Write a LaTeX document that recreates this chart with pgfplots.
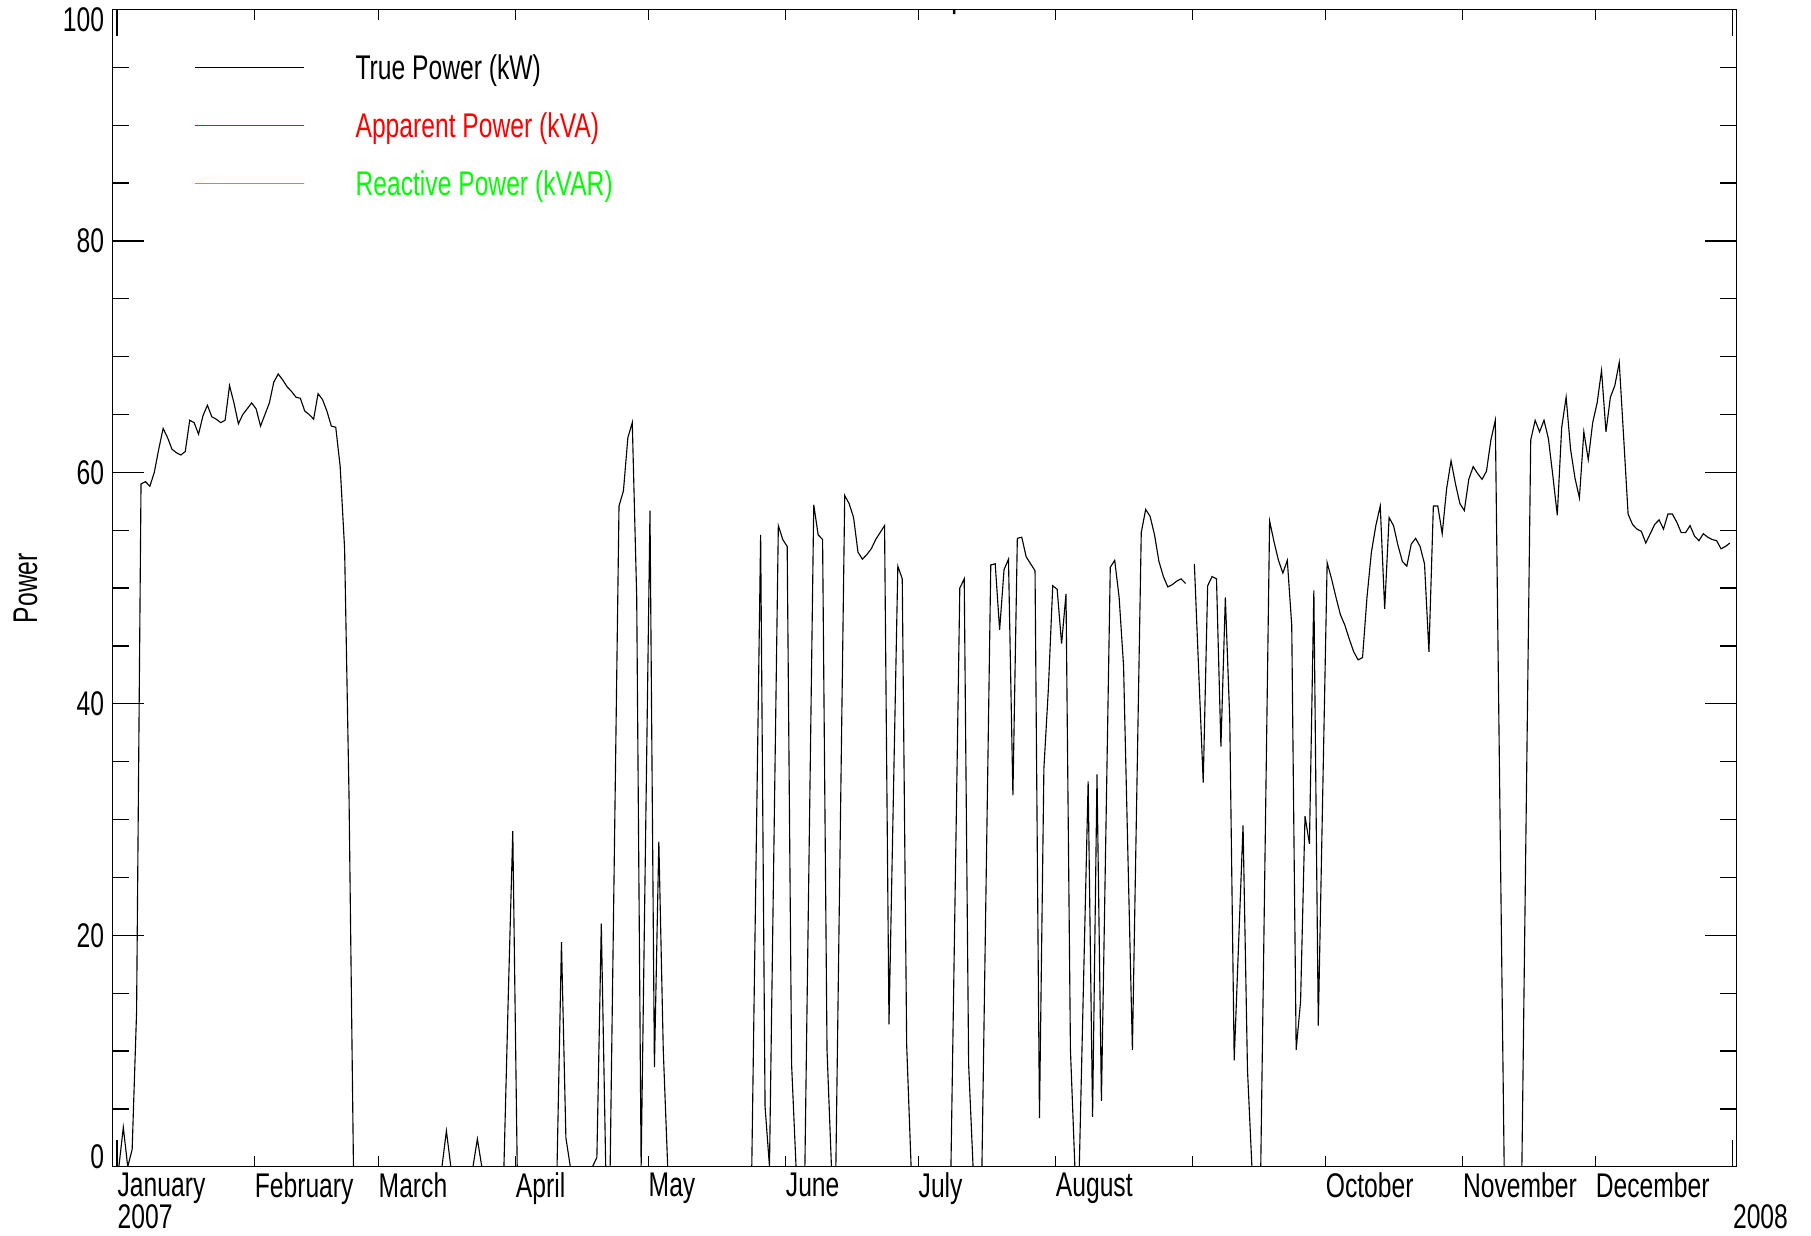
\documentclass[border=0pt]{standalone}
\usepackage{fontspec}
\setmainfont{Liberation Sans}[FakeStretch=0.72]
\usepackage{pgfplots}
\pgfplotsset{compat=1.18}

\newcommand\lbl{\fontsize{13.7pt}{15.3pt}\selectfont}

\pgfplotsset{
  frame/.style={
    width=649.7pt, height=462.9pt, scale only axis,
    xmin=-0.5, xmax=366.5, ymin=0, ymax=100,
    axis line style={line width=0.5pt},
    tick style={line width=0.5pt, black},
    tick align=inside,
    /pgf/number format/assume math mode=true,
    tick label style={font=\lbl},
  }
}

\begin{document}
\begin{tikzpicture}
% y ticks, data, legend
\begin{axis}[frame,
  xtick=\empty,
  ytick={0,20,...,100}, minor y tick num=3,
  yticklabels={\raisebox{4.2pt}[\height][\depth]{0},20,40,60,80,\raisebox{-4.2pt}[\height][\depth]{100}},
  major tick length=12.8pt, minor tick length=6.7pt,
  yticklabel style={anchor=east, inner sep=0pt, xshift=-3.1pt},
  ylabel={Power},
  ylabel style={at={(axis description cs:-0.0534,0.5)}, anchor=center, font=\lbl},
  unbounded coords=jump,
  legend cell align=left,
  legend image code/.code={\draw[#1] (0pt,1.3pt) -- (43.6pt,1.3pt);},
  legend style={at={(axis description cs:0.0503,0.9613)}, anchor=north west,
    draw=none, fill=none, inner sep=0pt, row sep=10.2pt, column sep=20.4pt,
    font=\lbl, nodes={inner sep=0pt, text height=10pt, text depth=3pt}},
]
\addplot[black, line width=0.45pt] coordinates {
(1,0)(2,3.4)(3,0)(4,1.5)(5,13.4)(6,59.0)(7,59.2)(8,58.8)(9,60.0)(10,62.0)
(11,63.8)(12,63.0)(13,62.0)(14,61.7)(15,61.5)(16,61.8)(17,64.5)(18,64.3)(19,63.3)(20,64.9)
(21,65.8)(22,64.8)(23,64.6)(24,64.3)(25,64.5)(26,67.5)(27,66.0)(28,64.2)(29,65.0)(30,65.5)
(31,66.0)(32,65.5)(33,64.0)(34,65.0)(35,66.0)(36,67.8)(37,68.5)(38,68.0)(39,67.4)(40,67.0)
(41,66.5)(42,66.4)(43,65.3)(44,65.0)(45,64.6)(46,66.8)(47,66.3)(48,65.3)(49,64.0)(50,63.9)
(51,60.5)(52,53.4)(53,32.0)(54,0)
(74,0)(75,3.1)(76,0)
(81,0)(82,2.4)(83,0)
(88,0)(89,15.0)(90,29.0)(91,0)
(100,0)(101,19.4)(102,2.5)(103,0)
(108,0)(109,0.8)(110,21.0)(111,0)(112,0)
(114,57.1)(115,58.4)(116,63.0)(117,64.3)(118,49.2)(119,0)
(121,56.7)(122,8.6)(123,28.1)(124,10.1)(125,0)
(144,0)(146,54.6)(147,5.2)(148,0)
(150,55.4)(151,54.2)(152,53.6)(153,8.8)(154,0)
(156,0)(158,57.2)(159,54.6)(160,54.2)(161,10.1)(162,0)(163,0)
(165,58.0)(166,57.3)(167,56.1)(168,53.1)(169,52.5)(170,52.9)(171,53.4)(172,54.2)(173,54.8)(174,55.4)
(175,12.3)(177,51.9)(178,50.8)(179,10.5)(180,0)
(189,0)(191,50.0)(192,50.8)(193,8.8)(194,0)
(196,0)(198,52.0)(199,52.1)(200,46.4)(201,51.6)(202,52.5)(203,32.1)(204,54.3)(205,54.4)(206,52.7)
(207,52.1)(208,51.5)(209,4.2)(210,34.4)(211,41.2)(212,50.2)(213,49.9)(214,45.2)(215,49.5)(216,10.1)
(217,0)(218,0)(220,33.3)(221,4.3)(222,33.9)(223,5.7)
(225,51.8)(226,52.4)(227,49.2)(228,43.3)(230,10.1)
(232,54.8)(233,56.8)(234,56.2)(235,54.6)(236,52.3)(237,51.0)(238,50.1)(239,50.3)(240,50.6)(241,50.8)
(242,50.4)(243,nan)(244,52.1)(246,33.2)(247,50.2)(248,51.0)(249,50.8)(250,36.3)
(251,49.2)(252,38.6)(253,9.2)(255,29.5)(256,8.4)(257,0)(259,0)
(261,55.8)(262,54.0)(263,52.4)(264,51.3)(265,52.4)(266,46.8)(267,10.1)(268,14.3)(269,30.3)(270,27.9)
(271,49.8)(272,12.2)(274,52.2)(275,50.8)(276,49.2)(277,47.7)(278,46.8)(279,45.6)(280,44.5)
(281,43.8)(282,44.0)(283,49.2)(284,53.1)(285,55.4)(286,57.1)(287,48.2)(288,56.1)(289,55.4)(290,53.7)
(291,52.3)(292,51.9)(293,53.8)(294,54.3)(295,53.6)(296,52.1)(297,44.5)(298,57.1)(299,57.1)(300,54.7)
(301,58.6)(302,61.0)(303,59.0)(304,57.3)(305,56.7)(306,59.4)(307,60.5)(308,59.9)(309,59.4)(310,60.1)
(311,62.8)(312,64.5)(314,0)(318,0)
(320,62.8)(321,64.5)(322,63.5)(323,64.5)(324,62.9)(325,59.7)(326,56.3)(327,63.9)(328,66.5)(329,62.0)
(330,59.5)(331,57.8)(332,63.5)(333,61.1)(334,64.3)(335,66.0)(336,68.8)(337,63.5)(338,66.5)(339,67.5)
(340,69.5)(341,63.0)(342,56.4)(343,55.5)(344,55.1)(345,54.9)(346,53.9)(347,54.7)(348,55.5)(349,55.9)
(350,55.1)(351,56.4)(352,56.4)(353,55.7)(354,54.8)(355,54.8)(356,55.4)(357,54.5)(358,54.1)(359,54.7)
(360,54.4)(361,54.2)(362,54.1)(363,53.4)(364,53.6)(365,53.9)
};
\addlegendentry{True Power (kW)}
\addlegendimage{red}
\addlegendentry{\textcolor{red}{Apparent Power (kVA)}}
\addlegendimage{green}
\addlegendentry{\textcolor{green}{Reactive Power (kVAR)}}
% title, cut by the top edge as in the reference
\node[anchor=base, inner sep=0pt, yshift=1.0pt, font=\fontsize{15.7pt}{18pt}\selectfont]
  at (axis description cs:0.5,1) {Generator Output Power};
\end{axis}
% month ticks and labels
\begin{axis}[frame,
  ytick=\empty,
  xtick={31.6,59.6,90.6,120.6,151.6,181.6,212.6,243.6,273.6,304.6,334.6},
  xticklabels={February,March,April,May,June,July,August,,October,November,December},
  major tick length=4.4pt,
  extra x ticks={0.6,365.6},
  extra x tick labels={{January\\[-2.3pt]2007},{\vphantom{January}\\[-2.3pt]2008}},
  extra x tick style={major tick length=10.5pt},
  xticklabel style={anchor=north west, align=left, inner sep=0pt, yshift=-2.2pt},
]
\end{axis}
\pgfresetboundingbox
\useasboundingbox (-44.9pt,-27.7pt) rectangle (679.5pt,466.7pt);
\end{tikzpicture}
\end{document}
